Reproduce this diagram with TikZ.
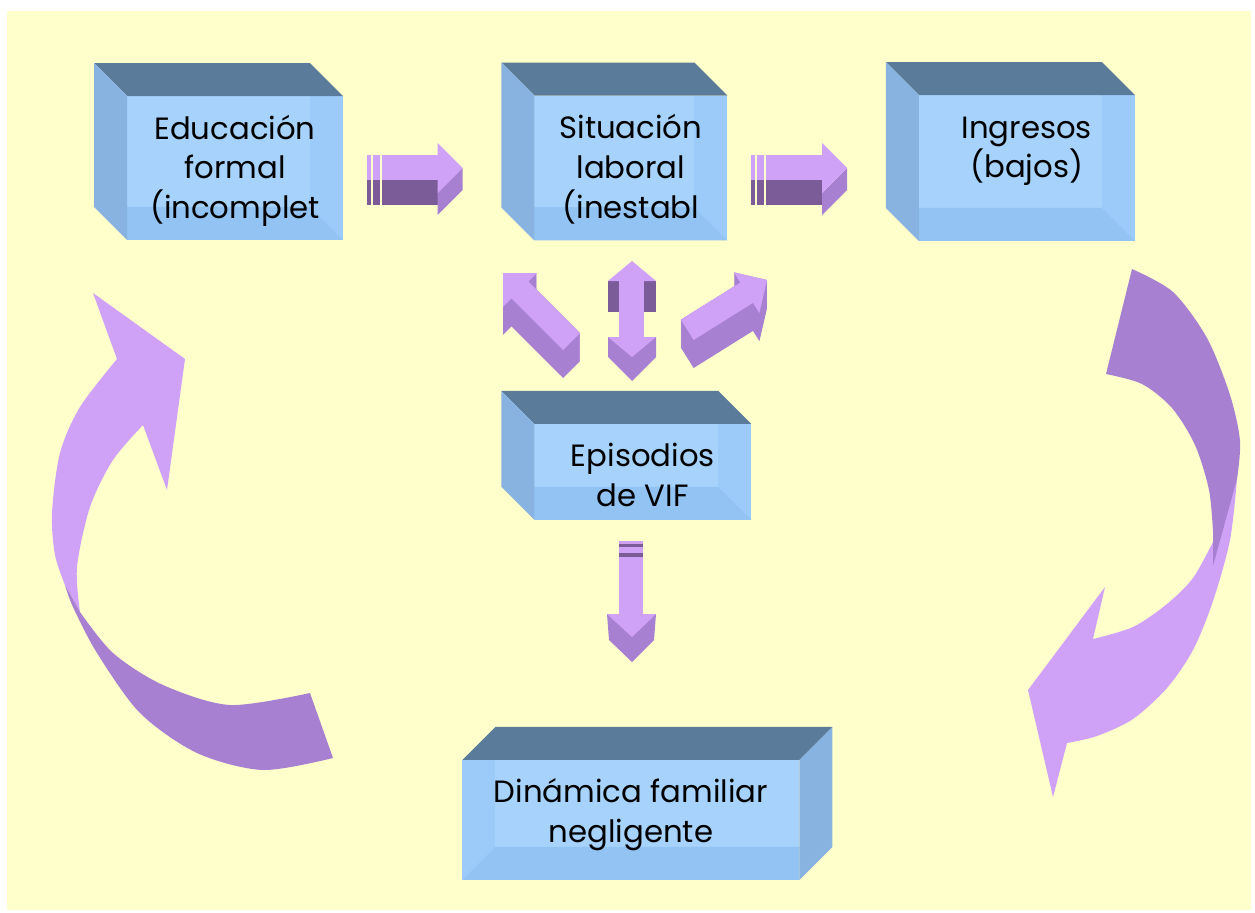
\documentclass[tikz,border=0pt]{standalone}
\usepackage{fontspec}
\setmainfont{Poppins}
\usetikzlibrary{positioning,calc,backgrounds}

\definecolor{fondo}{HTML}{FFFFCC}
\definecolor{cajapared}{HTML}{9CCBFA}
\definecolor{cajaclaro}{HTML}{A6D2FB}
\definecolor{cajapiso}{HTML}{92C3F3}
\definecolor{cajatapa}{HTML}{5B7B9A}
\definecolor{cajalado}{HTML}{88B3E0}
\definecolor{lila}{HTML}{CFA2F8}
\definecolor{lilamedio}{HTML}{A880D2}
\definecolor{lilaoscuro}{HTML}{7B5C99}

% texto de la cara frontal, alineado arriba
\newcommand{\frente}[3]{\parbox[c][#2][t]{#1}{\centering\rule{0pt}{0.86cm}#3}}

% caras de una caja con fondo hacia arriba a la izquierda
\newcommand{\cajaizq}[1]{%
  \fill[cajapared] (#1.south west) rectangle (#1.north east);
  \fill[cajaclaro] (#1.north west) rectangle ([shift={(-33,-33)}]#1.south east);
  \fill[cajapiso] (#1.south west) -- (#1.south east) -- ([shift={(-33,-33)}]#1.south east) -- ([shift={(0,-33)}]#1.south west) -- cycle;
  \fill[cajatapa] (#1.north west) -- ([shift={(-33,-33)}]#1.north west) -- ([shift={(-33,-33)}]#1.north east) -- (#1.north east) -- cycle;
  \fill[cajalado] (#1.north west) -- ([shift={(-33,-33)}]#1.north west) -- ([shift={(-33,-33)}]#1.south west) -- (#1.south west) -- cycle;
}
% caras de una caja con fondo hacia arriba a la derecha
\newcommand{\cajader}[1]{%
  \fill[cajapared] (#1.south west) rectangle (#1.north east);
  \fill[cajaclaro] ([shift={(33,0)}]#1.north west) rectangle ([shift={(0,-33)}]#1.south east);
  \fill[cajapiso] (#1.south west) -- (#1.south east) -- ([shift={(0,-33)}]#1.south east) -- ([shift={(33,-33)}]#1.south west) -- cycle;
  \fill[cajatapa] (#1.north west) -- ([shift={(33,-33)}]#1.north west) -- ([shift={(33,-33)}]#1.north east) -- (#1.north east) -- cycle;
  \fill[cajalado] (#1.north east) -- ([shift={(33,-33)}]#1.north east) -- ([shift={(33,-33)}]#1.south east) -- (#1.south east) -- cycle;
}
% flecha gruesa horizontal con rayas
\newcommand{\flechabloque}[1]{%
  \begin{scope}[shift={#1}]
    \foreach \a/\b in {-48/-44,-42/-35,-33/23}{
      \fill[lila] (\a,-13) rectangle (\b,12);
      \fill[lilaoscuro] (\a,12) rectangle (\b,37);
    }
    \fill[lilamedio] (48,0) -- (23,25) -- (23,47) -- (48,22) -- cycle;
    \fill[lila] (23,-25) -- (48,0) -- (23,25) -- cycle;
  \end{scope}}
% flecha plana con grosor: punta, angulo, largo, grosor
\newcommand{\flechaplana}[4]{%
  \foreach \k in {0,...,#4}
    \fill[lilamedio, shift={(0,\k)}, shift={#1}, rotate=#2]
      (0,0) -- (-24,-24) -- (-24,-12) -- (-#3,-12) -- (-#3,12) -- (-24,12) -- (-24,24) -- cycle;
  \fill[lila, shift={#1}, rotate=#2]
      (0,0) -- (-24,-24) -- (-24,-12) -- (-#3,-12) -- (-#3,12) -- (-24,12) -- (-24,24) -- cycle;
}

\begin{document}
\begin{tikzpicture}[x=0.02cm, y=-0.02cm, node distance=7.92cm,
  caja/.style={inner sep=0pt, outer sep=0pt, font=\fontsize{17.5pt}{22.7pt}\selectfont}]
\useasboundingbox (0,0) rectangle (1255,913);

\node[caja] (educ) at (235,168) {\frente{4.32cm}{2.88cm}{Educación\\formal\\(incomplet}};
\node[caja] (sit) [right of=educ] {\frente{3.86cm}{2.9cm}{Situación\\laboral\\(inestabl}};
\node[caja] (ingr) [right of=sit] {\frente{4.32cm}{2.92cm}{Ingresos\\(bajos)}};
\node[caja] (epi) [below of=sit, yshift=1.84cm, xshift=0.24cm] {\frente{4.34cm}{1.92cm}{Episodios\\de VIF}};
\node[caja] (din) [below of=epi, yshift=0.96cm, xshift=-0.24cm] {\frente{6.74cm}{2.4cm}{Dinámica familiar\\negligente}};

\begin{scope}[on background layer]
  \fill[white] (0,0) rectangle (1255,913);
  \fill[fondo] (7,11) rectangle (1251,910);
  \cajaizq{educ}
  \cajaizq{sit}
  \cajaizq{ingr}
  \cajaizq{epi}
  \cajader{din}
\end{scope}

% flechas entre cajas
\flechabloque{($(educ.east)!.5!(sit.west)+(-24,0)$)}
\flechabloque{($(sit.east)!.5!(ingr.west)+(-24,0)$)}

% flechas hacia episodios
\flechaplana{(503,273)}{135}{97}{28}
\flechaplana{(767,280)}{32}{94}{28}

% doble flecha
\fill[lilaoscuro] (608,281) rectangle (619,312);
\fill[lilaoscuro] (644,281) rectangle (656,312);
\fill[lila] (619,275) rectangle (644,338);
\fill[lila] (608,281) -- (632,261) -- (656,281) -- cycle;
\fill[lilamedio] (608,337) -- (608,357) -- (632,381) -- (656,357) -- (656,337) -- cycle;
\fill[lila] (608,337) -- (656,337) -- (632,357) -- cycle;

% flecha hacia dinamica
\fill[lila] (619,541) rectangle (643,615);
\fill[lilaoscuro] (619,544) rectangle (643,547);
\fill[lilaoscuro] (619,553) rectangle (643,557);
\fill[lilamedio] (607,614) -- (609,640) -- (632,662) -- (654,640) -- (656,614) -- cycle;
\fill[lila] (607,614) -- (656,614) -- (632,637) -- cycle;

% flecha curva izquierda
\fill[lila] (117,359) -- (93,293) -- (185,359) -- (167,490) -- (143,425)
  -- plot[smooth] coordinates {(143,425) (113,460) (90,507) (77,567) (80,612)}
  -- plot[smooth] coordinates {(65,585) (55,555) (52,513) (60,453) (80,407) (117,359)} -- cycle;
\fill[lilamedio] plot[smooth] coordinates {(65,585) (73,607) (97,653) (140,713) (197,753) (263,770) (333,758)}
  -- plot[smooth] coordinates {(310,693) (230,705) (163,685) (113,653) (80,612)} -- cycle;

% flecha curva derecha
\fill[lila] plot[smooth] coordinates {(1237,479) (1230,540) (1213,601) (1193,650) (1167,688) (1133,719) (1097,736) (1067,743)}
  -- (1053,797) -- (1028,690) -- (1105,587) -- (1093,639)
  -- plot[smooth] coordinates {(1093,639) (1133,627) (1167,604) (1193,578) (1213,542)} -- cycle;
\fill[lilamedio] plot[smooth] coordinates {(1132,269) (1173,292) (1207,338) (1230,395) (1240,441) (1237,479)}
  -- (1213,566)
  -- plot[smooth] coordinates {(1213,532) (1209,490) (1195,445) (1172,408) (1142,384) (1106,374)} -- cycle;
\end{tikzpicture}
\end{document}
